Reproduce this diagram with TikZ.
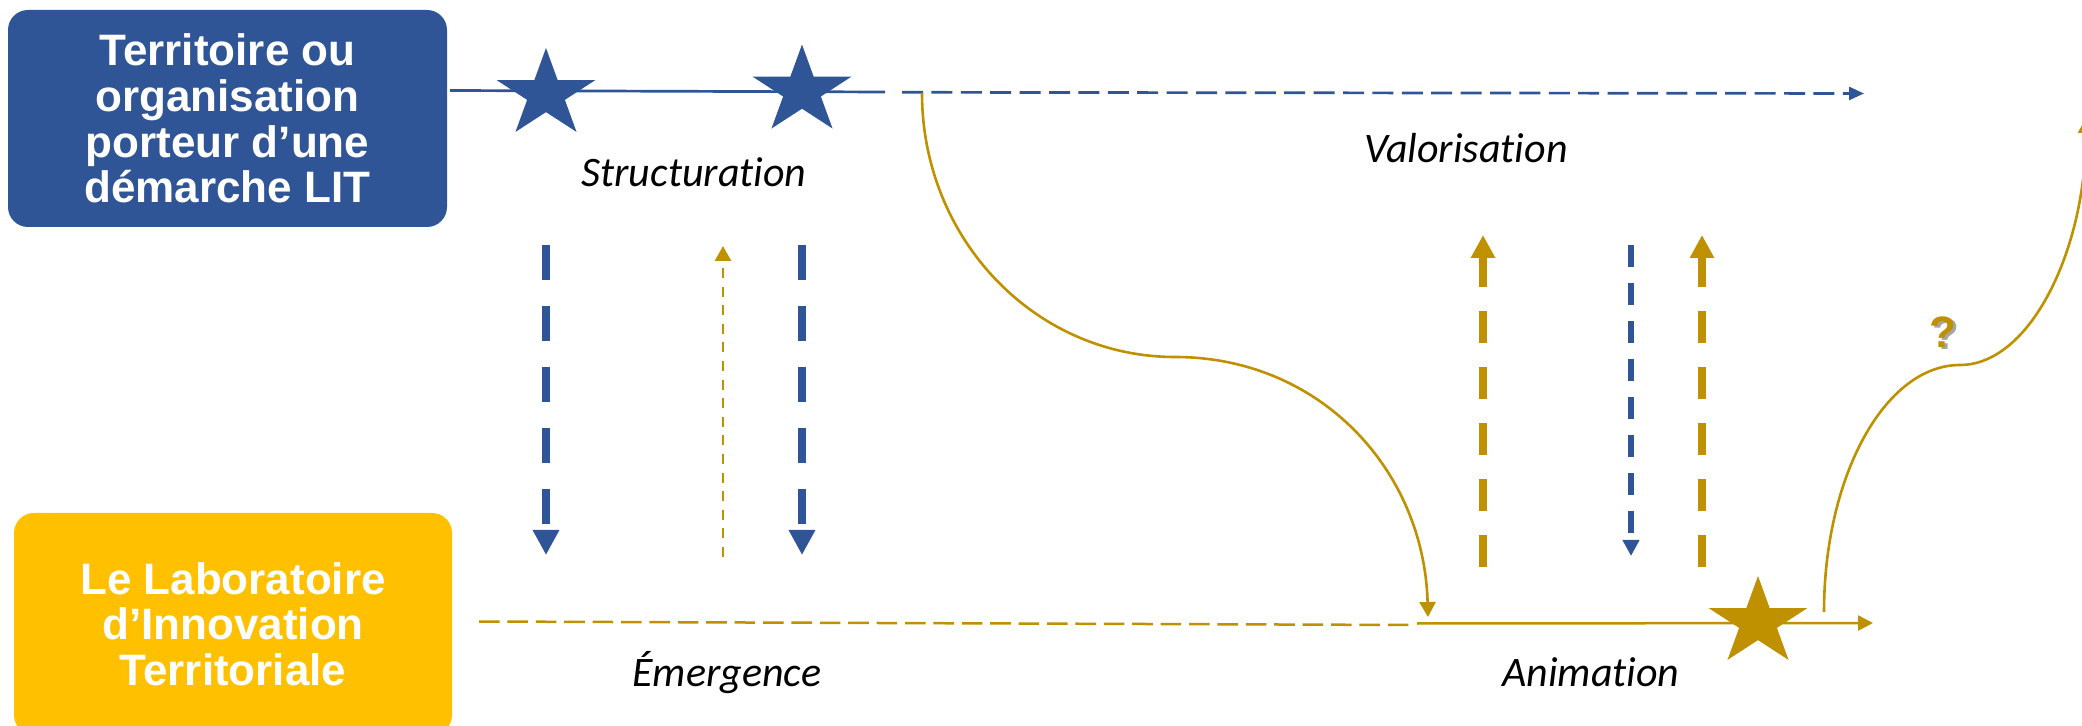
\documentclass[tikz,border=0pt]{standalone}
\usepackage{fontspec}
\setmainfont{Carlito}[Ligatures=NoCommon, RawFeature=-liga, RawFeature=-clig, RawFeature=-calt]
\newfontfamily\boxfont{Liberation Sans}
\usetikzlibrary{arrows.meta,shapes.geometric}
\definecolor{lblue}{HTML}{2F5597}
\definecolor{lgold}{HTML}{BF9000}
\definecolor{lyellow}{HTML}{FFC000}
\tikzset{
  boxstyle/.style={rounded corners=10pt, inner sep=0pt, align=center, text=white,
    font=\boxfont\bfseries\fontsize{22}{22.8}\selectfont},
  starshape/.style={star, star points=5, star point ratio=2.618, minimum size=46.4pt,
    inner sep=0pt, draw=none, transform shape},
  lab/.style={inner sep=0pt, font=\itshape\fontsize{21}{25}\selectfont},
  thickblue/.style={lblue, line width=4.2pt, dash pattern=on 17.5pt off 13pt,
    -{Triangle[length=12.5pt,width=12.5pt]}},
  thickgold/.style={lgold, line width=4pt, dash pattern=on 16pt off 12pt,
    -{Triangle[length=11.5pt,width=11.5pt]}},
  thinblue/.style={lblue, line width=2.85pt, dash pattern=on 11pt off 8pt,
    -{Triangle[length=8pt,width=8pt]}},
  thingold/.style={lgold, line width=1.35pt, dash pattern=on 5pt off 4.3pt,
    -{Triangle[length=7.5pt,width=8pt]}},
  curve/.style={lgold, line width=1.3pt}
}
\begin{document}
\begin{tikzpicture}[x=0.5pt,y=-0.5pt]
\useasboundingbox (0,0) rectangle (2082,726);

% boxes
\node[boxstyle, fill=lblue, minimum width=219.5pt, minimum height=108.5pt] (terr) at (227.5,118.5)
  {Territoire ou\\organisation\\porteur d’une\\démarche LIT};
\node[boxstyle, fill=lyellow, minimum width=219pt, minimum height=111pt] (lab) at (233,624)
  {Le Laboratoire\\d’Innovation\\Territoriale};

% top line
\coordinate (t0) at (450,90.5);
\coordinate (t1) at (885,92);
\coordinate (t2) at (902,92.3);
\coordinate (t3) at (1864,93.5);
\draw[lblue, line width=1.35pt] (t0) -- (t1);
\draw[lblue, line width=1.35pt, dash pattern=on 10.5pt off 4.2pt,
  -{Triangle[length=7.5pt,width=6.5pt]}] (t2) -- (t3);

% bottom line
\coordinate (b0) at (479,621.5);
\coordinate (b1) at (1412,625);
\coordinate (b2) at (1417,623.5);
\coordinate (b3) at (1873,623);
\draw[lgold, line width=1.25pt, dash pattern=on 10.3pt off 3.9pt] (b0) -- (b1);
\draw[lgold, line width=1.25pt, -{Triangle[length=7.5pt,width=7.5pt]}] (b2) -- (b3);

% curves
\coordinate (c0) at (922,93);
\coordinate (c1) at (1175,357);
\coordinate (c2) at (1428,617);
\draw[curve, -{Triangle[length=7.5pt,width=8pt]}]
  (c0) .. controls (922,239) and (1035,357) .. (c1)
       .. controls (1320,357) and (1424,470) .. (c2);
\coordinate (d0) at (1824,612);
\coordinate (d1) at (1960,365);
\coordinate (d2) at (2086,118);
\draw[curve, -{Triangle[length=7.5pt,width=8pt]}]
  (d0) .. controls (1824,476) and (1885,365) .. (d1)
       .. controls (2030,365) and (2086,250) .. (d2);

% stars
\begin{scope}[shift={(546,94.4)}, xscale=1.12]
  \node[starshape, fill=lblue] (s1) at (0,0) {};
\end{scope}
\begin{scope}[shift={(802,91)}, xscale=1.12]
  \node[starshape, fill=lblue] (s2) at (0,0) {};
\end{scope}
\begin{scope}[shift={(1758,622.4)}, xscale=1.12]
  \node[starshape, fill=lgold] (s3) at (0,0) {};
\end{scope}

% vertical arrows
\coordinate (v1a) at (546,245);  \coordinate (v1b) at (546,555);
\coordinate (v2a) at (723,557);  \coordinate (v2b) at (723,246);
\coordinate (v3a) at (802,245);  \coordinate (v3b) at (802,555);
\coordinate (v4a) at (1483,567); \coordinate (v4b) at (1483,235);
\coordinate (v5a) at (1631,245); \coordinate (v5b) at (1631,556);
\coordinate (v6a) at (1702,567); \coordinate (v6b) at (1702,235);
\draw[thickblue] (v1a) -- (v1b);
\draw[thingold] (v2a) -- (v2b);
\draw[thickblue] (v3a) -- (v3b);
\draw[thickgold] (v4a) -- (v4b);
\draw[thinblue] (v5a) -- (v5b);
\draw[thickgold] (v6a) -- (v6b);

% labels
\node[lab, anchor=base] (struct) at (694,187) {Structuration};
\node[lab, anchor=base] (valor) at (1466,163) {Valorisation};
\node[lab, anchor=base] (emerg) at (727,686) {Émergence};
\node[lab, anchor=base] (anim) at (1591,686) {Animation};

% question mark with shadow
\node[inner sep=0pt, text=black!35, font=\boxfont\bfseries\fontsize{22}{22}\selectfont] (qs) at (1945.5,334.5) {?};
\node[inner sep=0pt, text=lgold, font=\boxfont\bfseries\fontsize{22}{22}\selectfont] (q) at (1943,332) {?};
\end{tikzpicture}
\end{document}
